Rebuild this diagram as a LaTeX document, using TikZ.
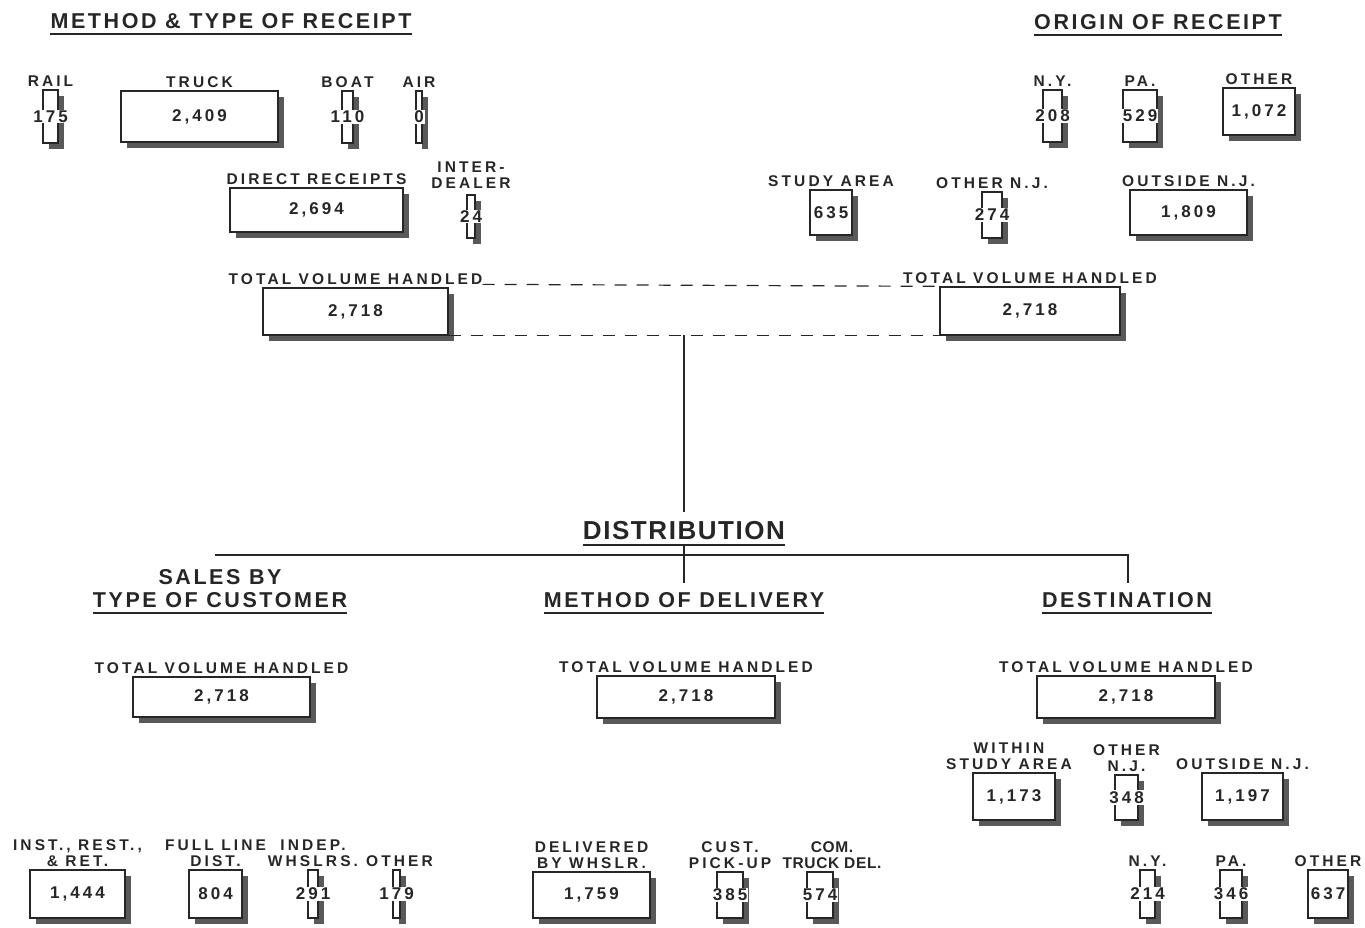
\documentclass[tikz,border=0pt]{standalone}
\usepackage{fontspec}
\setmainfont{Liberation Sans}
\newfontfamily\boxfont{Liberation Sans}[LetterSpace=20]
\newfontfamily\tightfont{Liberation Sans}[LetterSpace=4]
\newfontfamily\numfont{Liberation Sans}[LetterSpace=18]
\newfontfamily\headfont{Liberation Sans}[LetterSpace=12]
\newfontfamily\distfont{Liberation Sans}[LetterSpace=6]
\usepackage{xcolor}
\usepackage{tikz}
\usetikzlibrary{positioning,shadows}
\definecolor{ink}{HTML}{262626}

\begin{document}
\begin{tikzpicture}[
        x=1pt, y=-1pt,
        text=ink,
        font=\boxfont\bfseries\fontsize{15.5}{15.5}\selectfont,
        bar/.style={rectangle, draw=ink, line width=1.3pt, fill=white, inner sep=0pt,
            drop shadow={shadow xshift=6pt, shadow yshift=-6pt, fill=black!65, opacity=1}},
        num/.style={fill=white, inner sep=1pt, font=\numfont\bfseries\fontsize{17}{17}\selectfont},
        lbl/.style={inner sep=0pt, align=center},
        tightlbl/.style={lbl, font=\tightfont\bfseries\fontsize{15.5}{15.5}\selectfont},
        hdr/.style={font=\headfont\bfseries\fontsize{21.5}{23}\selectfont, inner sep=0pt, align=center},
        uline/.style={line width=2pt, draw=ink},
        trunk/.style={line width=2.6pt, draw=ink},
        link/.style={line width=1.2pt, draw=ink, dash pattern=on 12pt off 10pt}
    ]
        \useasboundingbox (0,0) rectangle (1365,927);

        % receipts
        \node[hdr] (methodh) at (231,21) {METHOD \& TYPE OF RECEIPT};
        \draw[uline] ([yshift=-5pt]methodh.south west) -- ([yshift=-5pt]methodh.south east);

        \node[bar, minimum width=15, minimum height=53] (rail) at (50.5,116.5) {};
        \node[num] at (rail) {175};
        \node[lbl, above=3pt of rail] {RAIL};
        \node[bar, minimum width=157, minimum height=51] (truck) at (199.5,116.5) {};
        \node[num] at (truck) {2,409};
        \node[lbl, above=3pt of truck] {TRUCK};
        \node[bar, minimum width=11, minimum height=52] (boat) at (347.5,117) {};
        \node[num] at (boat) {110};
        \node[lbl, above=3pt of boat] {BOAT};
        \node[bar, minimum width=6, minimum height=52] (air) at (419,117) {};
        \node[num] at (air) {0};
        \node[lbl, above=3pt of air] {AIR};

        \node[bar, minimum width=173, minimum height=44] (direct) at (316.5,210) {};
        \node[num] at (direct) {2,694};
        \node[lbl, above=3pt of direct] {DIRECT RECEIPTS};
        \node[bar, minimum width=8, minimum height=43] (inter) at (471,216.5) {};
        \node[num] at (inter) {24};
        \node[lbl, above=6pt of inter] {INTER-\\DEALER};

        \node[bar, minimum width=185, minimum height=47] (tvhrec) at (355.5,311.5) {};
        \node[num] at (tvhrec) {2,718};
        \node[lbl, above=3pt of tvhrec] (tvhrecl) {TOTAL VOLUME HANDLED};

        % origin
        \node[hdr] (originh) at (1158,22) {ORIGIN OF RECEIPT};
        \draw[uline] ([yshift=-5pt]originh.south west) -- ([yshift=-5pt]originh.south east);

        \node[bar, minimum width=19, minimum height=52] (ny) at (1052.5,116) {};
        \node[num] at (ny) {208};
        \node[lbl, above=3pt of ny] {N.Y.};
        \node[bar, minimum width=34, minimum height=52] (pa) at (1140,116) {};
        \node[num] at (pa) {529};
        \node[lbl, above=3pt of pa] {PA.};
        \node[bar, minimum width=72, minimum height=47] (otherst) at (1259,111.5) {};
        \node[num] at (otherst) {1,072};
        \node[lbl, above=3pt of otherst] {OTHER};

        \node[bar, minimum width=42, minimum height=45] (studyarea) at (831,212.5) {};
        \node[num] at (studyarea) {635};
        \node[lbl, above=3pt of studyarea] {STUDY AREA};
        \node[bar, minimum width=20, minimum height=46] (othernj) at (992,215) {};
        \node[num] at (othernj) {274};
        \node[lbl, above=3pt of othernj] {OTHER N.J.};
        \node[bar, minimum width=117, minimum height=45] (outsidenj) at (1188.5,212.5) {};
        \node[num] at (outsidenj) {1,809};
        \node[lbl, above=3pt of outsidenj] {OUTSIDE N.J.};

        \node[bar, minimum width=180, minimum height=48] (tvhorig) at (1030,311) {};
        \node[num] at (tvhorig) {2,718};
        \node[lbl, above=3pt of tvhorig] (tvhorigl) {TOTAL VOLUME HANDLED};

        \draw[link] (tvhrecl.south east) -- (tvhorig.north west);
        \draw[link] (tvhrec.south east) -- (tvhorig.south west);

        % distribution
        \coordinate (hub) at (684,335);
        \coordinate (busL) at (215,555);
        \coordinate (busR) at (1128,555);
        \coordinate (tap) at (684,583);
        \coordinate (tapR) at (1128,583);
        \node[font=\distfont\bfseries\fontsize{26}{26}\selectfont, inner sep=0pt] (disth) at (684,531) {DISTRIBUTION};
        \draw[uline] ([yshift=-5pt]disth.south west) -- ([yshift=-5pt]disth.south east);
        \draw[trunk] (hub) -- ([yshift=10pt]disth.north);
        \draw[trunk] ([yshift=-5pt]disth.south) -- (tap);
        \draw[trunk] (busL) -- (busR) -- (tapR);

        \node[hdr] (salesh) at (220,588.5) {SALES BY\\TYPE OF CUSTOMER};
        \draw[uline] ([yshift=-5pt]salesh.south west) -- ([yshift=-5pt]salesh.south east);
        \node[hdr] (mdelh) at (684,600) {METHOD OF DELIVERY};
        \draw[uline] ([yshift=-5pt]mdelh.south west) -- ([yshift=-5pt]mdelh.south east);
        \node[hdr] (desth) at (1127,600) {DESTINATION};
        \draw[uline] ([yshift=-5pt]desth.south west) -- ([yshift=-5pt]desth.south east);

        \node[bar, minimum width=177, minimum height=40] (tvhsales) at (221.5,697) {};
        \node[num] at (tvhsales) {2,718};
        \node[lbl, above=3pt of tvhsales] {TOTAL VOLUME HANDLED};
        \node[bar, minimum width=178, minimum height=42] (tvhdel) at (686,697) {};
        \node[num] at (tvhdel) {2,718};
        \node[lbl, above=3pt of tvhdel] {TOTAL VOLUME HANDLED};
        \node[bar, minimum width=178, minimum height=42] (tvhdest) at (1126,697) {};
        \node[num] at (tvhdest) {2,718};
        \node[lbl, above=3pt of tvhdest] {TOTAL VOLUME HANDLED};

        % destination
        \node[bar, minimum width=82, minimum height=47] (within) at (1014,796.5) {};
        \node[num] at (within) {1,173};
        \node[lbl, above=3pt of within, xshift=-5pt] {WITHIN\\STUDY AREA};
        \node[bar, minimum width=23, minimum height=45] (othernjd) at (1126.5,797.5) {};
        \node[num] at (othernjd) {348};
        \node[lbl, above=3pt of othernjd] {OTHER\\N.J.};
        \node[bar, minimum width=81, minimum height=47] (outsidenjd) at (1242.5,796.5) {};
        \node[num] at (outsidenjd) {1,197};
        \node[lbl, above=3pt of outsidenjd] {OUTSIDE N.J.};
        \node[bar, minimum width=15, minimum height=48] (nyd) at (1147.5,894) {};
        \node[num] at (nyd) {214};
        \node[lbl, above=3pt of nyd] {N.Y.};
        \node[bar, minimum width=22, minimum height=48] (pad) at (1231,894) {};
        \node[num] at (pad) {346};
        \node[lbl, above=3pt of pad] {PA.};
        \node[bar, minimum width=40, minimum height=48] (otherd) at (1328,894) {};
        \node[num] at (otherd) {637};
        \node[lbl, above=3pt of otherd] {OTHER};

        % customers
        \node[bar, minimum width=95, minimum height=48] (inst) at (77.5,894) {};
        \node[num] at (inst) {1,444};
        \node[lbl, above=3pt of inst] {INST., REST.,\\\& RET.};
        \node[bar, minimum width=53, minimum height=48] (fullline) at (215.5,894) {};
        \node[num] at (fullline) {804};
        \node[lbl, above=3pt of fullline] {FULL LINE\\DIST.};
        \node[bar, minimum width=10, minimum height=48] (indep) at (313,894) {};
        \node[num] at (indep) {291};
        \node[lbl, above=3pt of indep] {INDEP.\\WHSLRS.};
        \node[bar, minimum width=7, minimum height=48] (othercust) at (396.5,894) {};
        \node[num] at (othercust) {179};
        \node[lbl, above=3pt of othercust, xshift=3pt] {OTHER};

        % delivery
        \node[bar, minimum width=117, minimum height=46] (delivered) at (591.5,895) {};
        \node[num] at (delivered) {1,759};
        \node[lbl, above=3pt of delivered] {DELIVERED\\BY WHSLR.};
        \node[bar, minimum width=26, minimum height=46] (pickup) at (730,895) {};
        \node[num] at (pickup) {385};
        \node[lbl, above=3pt of pickup] {CUST.\\PICK-UP};
        \node[bar, minimum width=26, minimum height=46] (comtruck) at (820,895) {};
        \node[num] at (comtruck) {574};
        \node[tightlbl, above=3pt of comtruck, xshift=12pt] {COM.\\TRUCK DEL.};
    \end{tikzpicture}
\end{document}
